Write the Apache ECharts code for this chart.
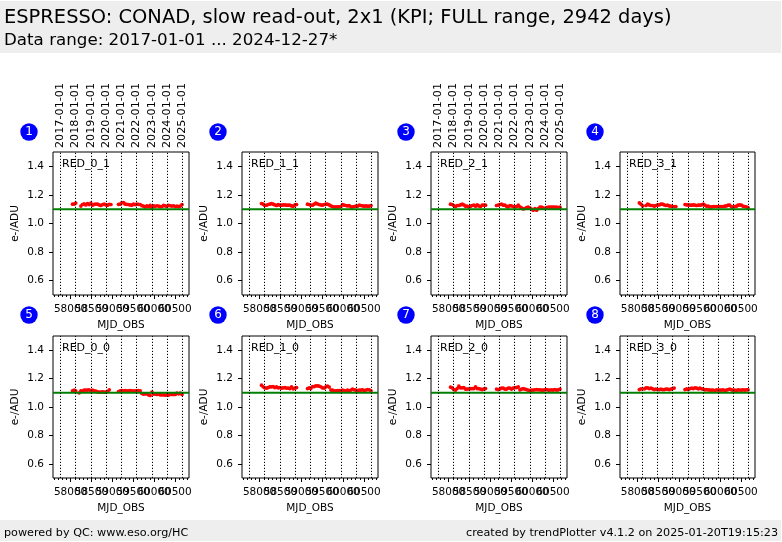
<!DOCTYPE html>
<html>
<head>
<meta charset="utf-8">
<style>html,body{margin:0;padding:0;background:#fff}#c{width:782px;height:542px}</style>
<script src="https://cdn.jsdelivr.net/npm/echarts@6/dist/echarts.min.js"></script>
</head>
<body>
<div id="c"></div>
<script>
const titleText = 'ESPRESSO: CONAD, slow read-out, 2x1 (KPI; FULL range, 2942 days)';
const subtitleText = 'Data range: 2017-01-01 ... 2024-12-27*';
const footerLeft = 'powered by QC: www.eso.org/HC';
const footerRight = 'created by trendPlotter v4.1.2 on 2025-01-20T19:15:23';
const panelNames = ['RED_0_1','RED_1_1','RED_2_1','RED_3_1','RED_0_0','RED_1_0','RED_2_0','RED_3_0'];
const dateLabels = ['2017-01-01','2018-01-01','2019-01-01','2020-01-01','2021-01-01','2022-01-01','2023-01-01','2024-01-01','2025-01-01'];
const dateMjd = [57754,58119,58484,58849,59215,59580,59945,60310,60676];
const mjdMajor = [58000,58500,59000,59500,60000,60500];
const mjdLabelsA = [58000,59000,60000];
const mjdLabelsB = [58500,59500,60500];
const mjdMinor = [57600,57700,57800,57900,58000,58100,58200,58300,58400,58500,58600,58700,58800,58900,59000,59100,59200,59300,59400,59500,59600,59700,59800,59900,60000,60100,60200,60300,60400,60500,60600,60700,60800];
const yTicks = [0.6,0.8,1.0,1.2,1.4];
const xRange = [57579,60836];
const yRange = [0.5,1.5];
const refLevel = 1.1;
const mjd = [58046,58086,58124,58166,58205,58246,58284,58326,58365,58406,58444,58486,58526,58565,58606,58645,58686,58724,58766,58805,58846,58885,58926,58966,
59148,59188,59226,59268,59308,59346,59388,59427,59468,59506,59548,59588,59626,59668,59708,59746,59788,59827,59868,59906,59948,59988,60026,60068,60108,60146,60188,60227,60268,60306,60348,60388,60426,60468,60508,60546,60588,60627,60668];
const red_0_1 = [1.135,1.136,1.143,null,null,1.122,1.133,1.138,1.130,1.140,1.132,1.142,1.128,1.134,1.136,1.135,1.130,1.126,1.132,1.135,1.130,1.128,1.134,1.133,
1.134,1.135,1.145,1.146,1.135,1.134,1.133,1.130,1.128,1.135,1.132,1.136,1.134,1.133,1.125,1.122,1.116,1.124,1.117,1.127,1.113,1.124,1.120,1.124,1.122,1.118,1.119,1.127,1.123,1.120,1.127,1.124,1.122,1.124,1.118,1.121,1.118,1.122,1.132];
const red_1_1 = [1.140,1.135,1.126,1.128,1.133,1.135,1.140,1.135,1.130,1.126,1.133,1.128,1.128,1.130,1.130,1.128,1.128,1.128,1.123,1.121,1.130,1.133,null,null,
1.135,1.133,1.128,1.128,1.135,1.142,1.137,1.133,1.130,1.128,1.133,1.135,1.135,1.130,1.123,1.119,1.114,1.116,1.116,1.116,1.119,1.133,1.128,1.126,1.123,1.126,1.116,1.116,1.119,1.121,1.121,1.128,1.126,1.123,1.121,1.123,1.121,1.121,1.126];
const red_2_1 = [1.135,1.133,1.126,1.119,1.126,1.126,1.130,1.135,1.130,1.121,1.121,1.116,1.121,1.126,1.128,1.121,1.130,1.123,1.119,1.128,1.128,1.128,null,null,
1.126,1.128,1.133,1.135,1.128,1.128,1.121,1.116,1.126,1.123,1.119,1.116,1.119,1.128,1.116,1.109,1.102,1.105,1.112,1.114,1.107,1.100,1.093,1.105,1.093,1.105,1.114,1.114,1.109,1.105,1.112,1.114,1.114,1.114,1.114,1.114,1.114,1.112,1.114];
const red_3_1 = [1.144,1.135,1.123,null,1.126,1.135,1.130,1.126,1.126,1.121,1.126,1.130,1.130,1.135,1.135,1.130,1.126,1.128,1.123,1.121,1.119,1.119,1.119,null,
1.133,1.130,1.130,1.128,1.128,1.130,1.128,1.126,1.128,1.128,1.130,1.135,1.128,1.121,1.121,1.116,1.116,1.119,1.119,1.119,1.119,1.119,1.119,1.119,1.121,1.123,1.128,1.128,1.116,1.116,1.119,1.121,1.128,1.130,1.128,1.121,1.119,1.116,1.112];
const red_0_0 = [1.114,1.119,1.114,null,1.100,1.114,1.112,1.119,1.119,1.119,1.121,1.114,1.119,1.114,1.112,1.107,1.105,1.105,1.107,1.105,1.105,1.109,1.121,null,
1.109,1.114,1.116,1.114,1.116,1.114,1.114,1.116,1.114,1.112,1.114,1.114,1.116,1.114,1.095,1.091,1.093,1.093,1.086,1.081,1.105,1.091,1.091,1.088,1.091,1.086,1.086,1.086,1.084,1.086,1.084,1.091,1.088,1.088,1.088,1.098,1.093,1.098,1.088];
const red_1_0 = [1.154,1.142,1.135,1.133,1.137,1.142,1.142,1.144,1.137,1.142,1.135,1.137,1.133,1.135,1.137,1.133,1.133,1.130,1.142,1.128,1.133,1.137,null,null,
1.130,1.135,1.130,1.144,1.144,1.149,1.149,1.147,1.142,1.135,1.133,1.142,1.147,1.140,1.119,1.119,1.114,1.114,1.116,1.116,1.116,1.119,1.116,1.114,1.119,1.114,1.119,1.126,1.121,1.119,1.116,1.119,1.119,1.121,1.116,1.119,1.123,1.121,1.114];
const red_2_0 = [1.140,1.135,1.123,1.119,1.130,1.147,1.135,1.135,1.137,1.126,1.126,1.128,1.130,1.130,1.130,1.142,1.130,1.130,1.126,1.123,1.128,1.130,null,null,
1.126,1.123,1.126,1.133,1.133,1.126,1.126,1.133,1.133,1.126,1.133,1.137,1.137,1.142,1.121,1.126,1.130,1.126,1.123,1.119,1.116,1.119,1.119,1.121,1.123,1.121,1.121,1.119,1.119,1.121,1.123,1.119,1.119,1.121,1.119,1.123,1.119,1.121,1.126];
const red_3_0 = [1.123,1.128,null,1.128,1.135,1.135,1.130,1.133,1.128,1.123,1.126,1.123,1.123,1.126,1.123,1.123,1.126,1.126,1.123,1.126,1.130,1.133,null,null,
1.123,1.128,1.123,1.130,1.133,1.130,1.135,1.133,1.128,1.133,1.128,1.126,1.121,1.123,1.121,1.119,1.119,1.119,1.114,1.121,1.119,1.119,1.119,1.121,1.116,1.119,1.123,1.126,1.121,1.119,1.119,1.116,1.121,1.119,1.119,1.121,1.119,1.121,1.121];
const panelValues = [red_0_1,red_1_1,red_2_1,red_3_1,red_0_0,red_1_0,red_2_0,red_3_0];
const panelLeft = [53,242,431,620];
const panelWidth = [136,136,136,135];
const panelTop = [152,336];
const panelHeight = [143,142];
const badgeX = [29,218,406,595];
const badgeY = [132,315];
const dateLabelPanels = [0,2];

const FONT = 'DejaVu Sans';
const grid = [], xAxis = [], yAxis = [], series = [], graphic = [];

graphic.push({type:'rect',shape:{x:0,y:1,width:781,height:52},style:{fill:'#eeeeee'},silent:true});
graphic.push({type:'rect',shape:{x:0,y:520,width:781,height:21},style:{fill:'#eeeeee'},silent:true});
graphic.push({type:'text',x:4,y:18,style:{text:titleText,fill:'#000',font:'19.45px "DejaVu Sans"',textVerticalAlign:'middle'}});
graphic.push({type:'text',x:4,y:41,style:{text:subtitleText,fill:'#000',font:'16.7px "DejaVu Sans"',textVerticalAlign:'middle'}});
graphic.push({type:'text',x:4,y:533,style:{text:footerLeft,fill:'#000',font:'11.2px "DejaVu Sans"',textVerticalAlign:'middle'}});
graphic.push({type:'text',x:778,y:533,style:{text:footerRight,fill:'#000',font:'11.2px "DejaVu Sans"',textAlign:'right',textVerticalAlign:'middle'}});

panelNames.forEach((name, i) => {
  const col = i % 4, row = Math.floor(i / 4);
  const ax = i * 3;
  const bottomLabel = values => ({show:true,customValues:values,margin:9,hideOverlap:false,showMinLabel:true,showMaxLabel:true,fontFamily:FONT,fontSize:10.5,color:'#000',formatter:v=>String(v)});
  grid.push({left:panelLeft[col],top:panelTop[row],width:panelWidth[col],height:panelHeight[row],
    show:true,borderColor:'#000',borderWidth:1,backgroundColor:'transparent',containLabel:false});
  xAxis.push({gridIndex:i,type:'value',position:'bottom',min:xRange[0],max:xRange[1],
    name:'MJD_OBS',nameLocation:'middle',nameGap:25,nameTextStyle:{fontFamily:FONT,fontSize:10.5,color:'#000'},
    axisLine:{show:false},splitLine:{show:false},
    axisTick:{show:true,length:4,customValues:mjdMajor,lineStyle:{color:'#000',width:1}},
    axisLabel:bottomLabel(mjdLabelsA)});
  xAxis.push({gridIndex:i,type:'value',position:'bottom',min:xRange[0],max:xRange[1],
    axisLine:{show:false},splitLine:{show:false},
    axisLabel:bottomLabel(mjdLabelsB),
    axisTick:{show:true,length:2,customValues:mjdMinor,lineStyle:{color:'#000',width:1}}});
  const showDates = dateLabelPanels.includes(i);
  xAxis.push({gridIndex:i,type:'value',position:'top',min:xRange[0],max:xRange[1],
    axisLine:{show:false},splitLine:{show:false},axisTick:{show:false},
    axisLabel:{show:showDates,customValues:dateMjd,rotate:-90,margin:4,hideOverlap:false,showMinLabel:true,showMaxLabel:true,fontFamily:FONT,fontSize:11.2,color:'#000',
      formatter:v=>dateLabels[dateMjd.indexOf(v)]}});
  yAxis.push({gridIndex:i,type:'value',min:yRange[0],max:yRange[1],
    name:'e-/ADU',nameLocation:'middle',nameGap:32,nameRotate:90,nameTextStyle:{fontFamily:FONT,fontSize:10.5,color:'#000'},
    axisLine:{show:false},splitLine:{show:false},
    axisTick:{show:true,length:4,customValues:yTicks,lineStyle:{color:'#000',width:1}},
    axisLabel:{show:true,customValues:yTicks,margin:9,fontFamily:FONT,fontSize:10.5,color:'#000',formatter:v=>v.toFixed(1)}});
  series.push({type:'line',xAxisIndex:ax,yAxisIndex:i,data:[],silent:true,z:2,
    markLine:{silent:true,symbol:'none',label:{show:false},animation:false,
      lineStyle:{color:'#000',type:[1.2,1.8],width:1},
      data:dateMjd.map(v=>({xAxis:v}))}});
  series.push({type:'scatter',xAxisIndex:ax,yAxisIndex:i,symbol:'circle',symbolSize:3.7,z:3,
    itemStyle:{color:'#ff0000',opacity:1},
    data:mjd.map((m,k)=>[m,panelValues[i][k]]).filter(d=>d[1]!==null)});
  series.push({type:'line',xAxisIndex:ax,yAxisIndex:i,showSymbol:false,symbol:'none',z:4,silent:true,
    lineStyle:{color:'#008000',width:2},
    data:[[xRange[0],refLevel],[xRange[1],refLevel]]});
  graphic.push({type:'text',x:panelLeft[col]+9,y:panelTop[row]+12,z:10,
    style:{text:name,fill:'#000',font:'11px "DejaVu Sans"',textVerticalAlign:'middle'}});
  graphic.push({type:'circle',shape:{cx:badgeX[col],cy:badgeY[row],r:8.7},style:{fill:'#0000ff'},silent:true});
  graphic.push({type:'text',x:badgeX[col],y:badgeY[row],style:{text:String(i+1),fill:'#fff',font:'12px "DejaVu Sans"',textAlign:'center',textVerticalAlign:'middle'}});
});

const chart = echarts.init(document.getElementById('c'),null,{renderer:'canvas',width:782,height:542});
chart.setOption({animation:false,backgroundColor:'#fff',grid,xAxis,yAxis,series,graphic});
</script>
</body>
</html>
